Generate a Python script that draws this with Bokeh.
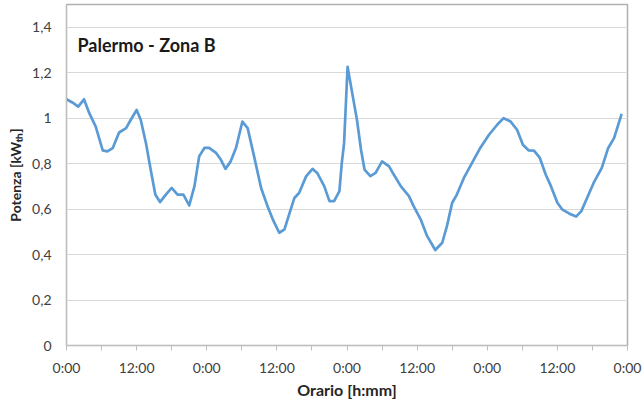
from bokeh.plotting import figure
from bokeh.models import FixedTicker, Range1d, Label
from bokeh.embed import file_html
from bokeh.resources import INLINE

# ---- data (hours from start, power kWth) ----
hours = [0, 1.0, 2.0, 3.0, 3.9, 5.0, 6.2, 7.0, 7.9, 9.0, 10.2, 11.0, 12.0, 12.7,
         13.6, 14.4, 15.2, 16.0, 17.0, 18.0, 19.0, 20.0, 21.0, 21.9, 22.7, 23.6,
         24.4, 25.6, 26.4, 27.2, 28.1, 29.0, 30.1, 31.0, 32.1, 33.3, 34.4, 35.3,
         36.4, 37.3, 38.1, 39.0, 39.8, 41.0, 42.1, 42.9, 44.1, 45.0, 45.8, 46.7,
         47.1, 47.5, 48.1, 48.9, 49.7, 50.4, 51.0, 52.0, 52.9, 54.0, 55.2, 56.0,
         57.2, 58.6, 59.4, 60.6, 61.7, 63.1, 64.3, 65.1, 66.0, 66.8, 68.0, 69.4,
         70.8, 72.3, 73.7, 74.8, 76.0, 77.1, 78.1, 79.1, 80.0, 81.0, 82.0, 82.9,
         84.0, 84.8, 86.0, 87.2, 88.1, 89.1, 90.2, 91.6, 92.7, 93.7, 95.0]
power = [1.083, 1.069, 1.051, 1.083, 1.022, 0.963, 0.858, 0.854, 0.868, 0.937,
         0.956, 0.993, 1.036, 0.993, 0.890, 0.774, 0.664, 0.631, 0.664, 0.693,
         0.664, 0.664, 0.616, 0.701, 0.832, 0.869, 0.869, 0.847, 0.818, 0.777,
         0.810, 0.869, 0.985, 0.956, 0.832, 0.693, 0.613, 0.555, 0.496, 0.511,
         0.577, 0.649, 0.671, 0.744, 0.777, 0.759, 0.701, 0.635, 0.635, 0.679,
         0.800, 0.890, 1.226, 1.109, 0.993, 0.861, 0.774, 0.745, 0.759, 0.810,
         0.788, 0.752, 0.701, 0.657, 0.613, 0.555, 0.482, 0.420, 0.452, 0.525,
         0.628, 0.664, 0.737, 0.803, 0.869, 0.927, 0.971, 1.000, 0.985, 0.949,
         0.883, 0.858, 0.857, 0.825, 0.752, 0.701, 0.628, 0.599, 0.581, 0.567,
         0.591, 0.650, 0.715, 0.781, 0.869, 0.912, 1.019]

x_ticks = [0, 6, 12, 18, 24, 30, 36, 42, 48, 54, 60, 66, 72, 78, 84, 90, 96]
x_labels = ["0:00", "", "12:00", "", "0:00", "", "12:00", "", "0:00", "",
            "12:00", "", "0:00", "", "12:00", "", "0:00"]
y_ticks = [0, 0.2, 0.4, 0.6, 0.8, 1.0, 1.2, 1.4]
y_labels = ["0", "0,2", "0,4", "0,6", "0,8", "1", "1,2", "1,4"]

chart_title = "Palermo - Zona B"
x_title = "Orario [h:mm]"
y_title = "Potenza [kW\u209c\u2095]"

FONT = "Lato"

p = figure(width=642, height=403, output_backend="svg", toolbar_location=None,
           x_range=Range1d(0, 96), y_range=Range1d(0, 1.5),
           min_border_left=66, min_border_right=15, min_border_top=4,
           min_border_bottom=58)
p.frame_width = 561
p.frame_height = 341

p.line(hours, power, line_color="#5b9bd5", line_width=2.7, line_join="round")

p.outline_line_color = "#b0b0b0"
p.outline_line_width = 1.5
p.background_fill_color = "white"
p.border_fill_color = "white"

p.xgrid.visible = False
p.ygrid.grid_line_color = "#d9d9d9"
p.ygrid.grid_line_width = 1

p.xaxis.ticker = FixedTicker(ticks=x_ticks)
p.xaxis.major_label_overrides = {t: l for t, l in zip(x_ticks, x_labels)}
p.xaxis.minor_tick_line_color = None
p.xaxis.major_tick_out = 5
p.xaxis.major_tick_in = 0
p.xaxis.major_tick_line_color = "#bfbfbf"
p.xaxis.axis_line_color = "#bfbfbf"
p.xaxis.major_label_standoff = 8
p.xaxis.major_label_text_font = FONT
p.xaxis.major_label_text_font_size = "14px"
p.xaxis.major_label_text_color = "#404040"
p.xaxis.axis_label = x_title
p.xaxis.axis_label_text_font = FONT
p.xaxis.axis_label_text_font_style = "bold"
p.xaxis.axis_label_text_font_size = "16px"
p.xaxis.axis_label_text_color = "#262626"
p.xaxis.axis_label_standoff = 1

p.yaxis.ticker = FixedTicker(ticks=y_ticks)
p.yaxis.major_label_overrides = {t: l for t, l in zip(y_ticks, y_labels)}
p.yaxis.minor_tick_line_color = None
p.yaxis.major_tick_line_color = None
p.yaxis.major_tick_out = 0
p.yaxis.major_tick_in = 0
p.yaxis.axis_line_color = "#bfbfbf"
p.yaxis.major_label_standoff = 15
p.yaxis.major_label_text_font = FONT
p.yaxis.major_label_text_font_size = "14px"
p.yaxis.major_label_text_color = "#404040"
p.yaxis.axis_label = y_title
p.yaxis.axis_label_text_font = FONT
p.yaxis.axis_label_text_font_style = "bold"
p.yaxis.axis_label_text_font_size = "14px"
p.yaxis.axis_label_text_color = "#262626"
p.yaxis.axis_label_standoff = 5

# chart title inside the plot area
p.add_layout(Label(x=11, y=312, x_units="screen", y_units="screen",
                   text=chart_title, text_font=FONT, text_font_style="bold",
                   text_font_size="18px", text_color="#1a1a1a",
                   text_baseline="top", text_align="left"))

open("out.html", "w").write(file_html(p, INLINE))
